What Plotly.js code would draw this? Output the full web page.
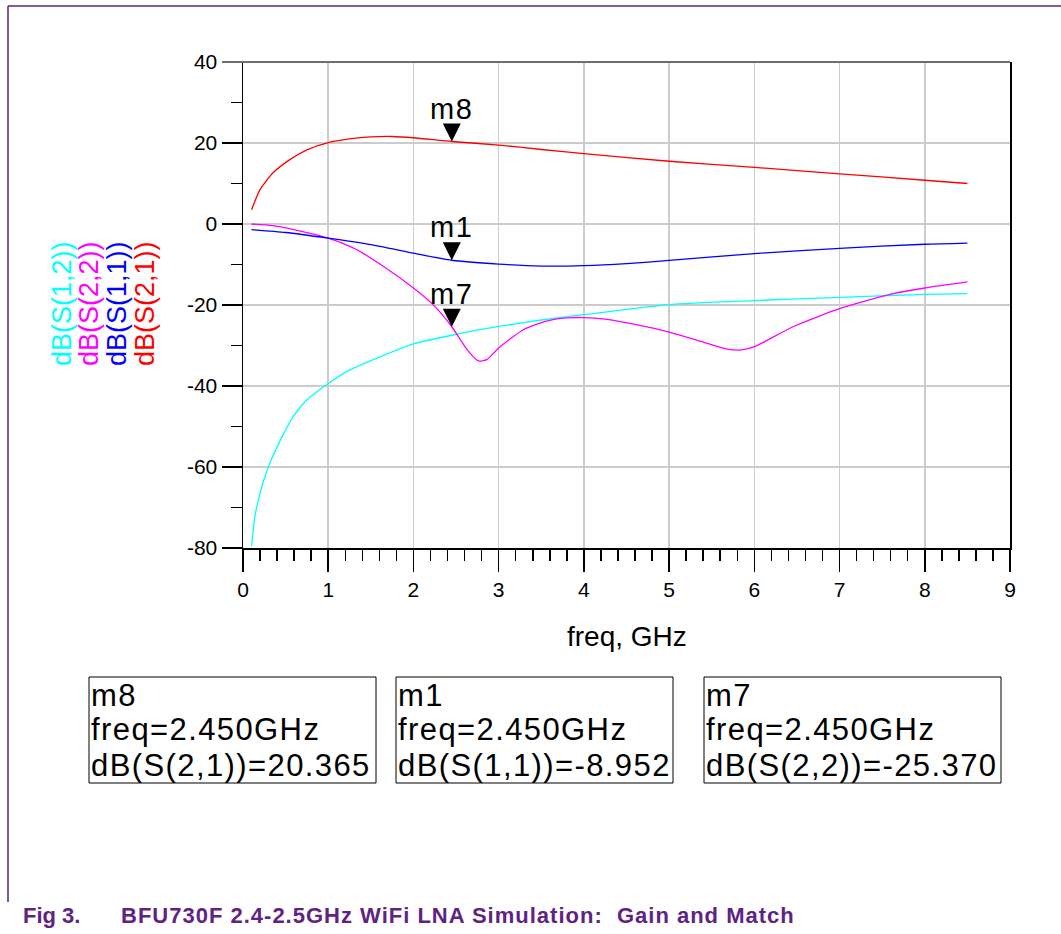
<!DOCTYPE html>
<html>
<head>
<meta charset="utf-8">
<script src="https://cdn.plot.ly/plotly-3.0.1.min.js"></script>
<style>
html,body{margin:0;padding:0;background:#ffffff;}
#chart{width:1061px;height:934px;}
</style>
</head>
<body>
<div id="chart"></div>
<script>
// ---------- data ----------
const s21Freq = [0.1, 0.2, 0.35, 0.55, 0.75, 1.0, 1.25, 1.5, 1.75, 2.0, 2.45, 3.0, 3.5, 4.0, 5.0, 6.0, 7.0, 8.0, 8.5];
const s21dB   = [3.5, 8.5, 12.6, 15.9, 18.3, 20.1, 21.0, 21.5, 21.6, 21.3, 20.365, 19.5, 18.4, 17.4, 15.5, 14.0, 12.4, 10.8, 10.0];

const s11Freq = [0.1, 0.5, 1.0, 1.5, 2.0, 2.45, 3.0, 3.5, 4.0, 4.5, 5.0, 6.0, 7.0, 8.0, 8.5];
const s11dB   = [-1.4, -2.1, -3.5, -5.1, -7.2, -8.952, -9.9, -10.4, -10.3, -9.8, -9.0, -7.3, -6.0, -5.0, -4.7];

const s22Freq = [0.1, 0.35, 0.75, 1.0, 1.33, 1.65, 2.0, 2.23, 2.45, 2.63, 2.76, 2.86, 3.0, 3.29, 3.56, 3.8, 4.0, 4.25, 4.6, 5.0, 5.36, 5.68, 5.85, 6.0, 6.46, 7.0, 7.63, 8.0, 8.5];
const s22dB   = [0, -0.4, -2.1, -3.5, -6.3, -10.5, -15.8, -19.9, -25.37, -31.0, -33.8, -33.5, -30.6, -26.1, -24.0, -23.2, -23.1, -23.5, -24.8, -26.7, -28.9, -30.9, -31.1, -30.3, -25.3, -20.9, -17.2, -15.8, -14.3];

const s12Freq = [0.1, 0.14, 0.2, 0.3, 0.44, 0.59, 0.75, 0.96, 1.22, 1.53, 2.0, 2.51, 3.0, 3.5, 4.0, 5.0, 6.0, 7.0, 8.0, 8.5];
const s12dB   = [-79.6, -72.2, -66.4, -59.8, -53.3, -47.5, -43.4, -40.0, -36.4, -33.5, -29.6, -27.2, -25.3, -23.7, -22.4, -19.9, -18.9, -18.1, -17.4, -17.2];

const seriesNames  = ['dB(S(1,2))', 'dB(S(2,2))', 'dB(S(1,1))', 'dB(S(2,1))'];
const seriesColors = ['#00ffff', '#ff00ff', '#0000ff', '#ff0000'];

const markerNames  = ['m8', 'm1', 'm7'];
const markerSeries = ['dB(S(2,1))', 'dB(S(1,1))', 'dB(S(2,2))'];
const markerFreq   = [2.45, 2.45, 2.45];
const markerValues = [20.365, -8.952, -25.370];
const markerFreqText  = ['2.450GHz', '2.450GHz', '2.450GHz'];
const markerValueText = ['20.365', '-8.952', '-25.370'];

const xTickVals = [0, 1, 2, 3, 4, 5, 6, 7, 8, 9];
const yTickVals = [-80, -60, -40, -20, 0, 20, 40];

const xTitle = 'freq, GHz';
const figNumber = 'Fig 3.';
const figCaption = 'BFU730F 2.4-2.5GHz WiFi LNA Simulation:&nbsp; Gain and Match';

// ---------- layout geometry ----------
const W = 1061, H = 934;
const L = 243, R = 1010, T = 62, B = 548;
const px2x = p => (p - L) / (R - L);
const py2y = p => (B - p) / (B - T);
const FONT = 'Liberation Sans, Arial, sans-serif';
const PURPLE = '#5e2383';

const seriesData = {
  'dB(S(1,2))': [s12Freq, s12dB],
  'dB(S(2,2))': [s22Freq, s22dB],
  'dB(S(1,1))': [s11Freq, s11dB],
  'dB(S(2,1))': [s21Freq, s21dB]
};

const traces = seriesNames.map((name, i) => ({
  type: 'scatter', mode: 'lines', name: name,
  x: seriesData[name][0], y: seriesData[name][1],
  line: {color: seriesColors[i], width: 1.3, shape: 'spline', smoothing: 0.6},
  hoverinfo: 'x+y+name'
}));

const annotations = [];
const shapes = [];

// y axis stacked coloured titles
const yTitleX = [62, 89, 117, 145];
seriesNames.forEach((name, i) => {
  annotations.push({
    xref: 'paper', yref: 'paper', x: px2x(yTitleX[i]), y: py2y(304),
    xanchor: 'center', yanchor: 'middle', textangle: -90, showarrow: false,
    text: name, font: {family: FONT, size: 27, color: seriesColors[i]}
  });
});

// x axis title
annotations.push({
  xref: 'paper', yref: 'paper', x: px2x(627), y: py2y(636),
  xanchor: 'center', yanchor: 'middle', showarrow: false,
  text: xTitle, font: {family: FONT, size: 28, color: '#000'}
});

// markers on the curves
markerNames.forEach((m, i) => {
  annotations.push({
    xref: 'x', yref: 'y', x: markerFreq[i], y: markerValues[i],
    text: '<span style="letter-spacing:1.5px">' + m + '</span>',
    font: {family: FONT, size: 29, color: '#000'},
    showarrow: true, ax: 0, ay: -33, arrowhead: 2, arrowsize: 3.6, arrowwidth: 1,
    arrowcolor: '#000', standoff: 0, startstandoff: 0
  });
});

// marker readout boxes
const boxLeft  = [89, 396, 704];
const boxRight = [376, 673, 1001];
const boxTop = 677, boxBottom = 783;
const lineCenters = [695, 729, 765];
markerNames.forEach((m, i) => {
  shapes.push({
    type: 'rect', xref: 'paper', yref: 'paper',
    x0: px2x(boxLeft[i]), x1: px2x(boxRight[i]), y0: py2y(boxBottom), y1: py2y(boxTop),
    line: {color: '#000', width: 1}, fillcolor: 'rgba(0,0,0,0)'
  });
  const lines = [m, 'freq=' + markerFreqText[i], markerSeries[i] + '=' + markerValueText[i]];
  lines.forEach((t, k) => {
    annotations.push({
      xref: 'paper', yref: 'paper', x: px2x(boxLeft[i]), y: py2y(lineCenters[k]),
      xanchor: 'left', yanchor: 'middle', showarrow: false,
      text: '<span style="letter-spacing:1.4px">' + t + '</span>',
      font: {family: FONT, size: 31, color: '#000'}
    });
  });
});

// caption
annotations.push({
  xref: 'paper', yref: 'paper', x: px2x(21), y: py2y(915),
  xanchor: 'left', yanchor: 'middle', showarrow: false,
  text: '<b>' + figNumber + '</b>',
  font: {family: FONT, size: 22, color: PURPLE}
});
annotations.push({
  xref: 'paper', yref: 'paper', x: px2x(119), y: py2y(915),
  xanchor: 'left', yanchor: 'middle', showarrow: false,
  text: '<b><span style="letter-spacing:1px">' + figCaption + '</span></b>',
  font: {family: FONT, size: 22, color: PURPLE}
});

// top border of the plot (grey) and page frame (purple)
shapes.push({type: 'line', xref: 'paper', yref: 'paper', x0: px2x(222), x1: 1, y0: 1, y1: 1,
             line: {color: '#6e6e6e', width: 2}});
shapes.push({type: 'line', xref: 'paper', yref: 'paper', x0: px2x(8), x1: px2x(1061), y0: py2y(6), y1: py2y(6),
             line: {color: PURPLE, width: 1.5}});
shapes.push({type: 'line', xref: 'paper', yref: 'paper', x0: px2x(8), x1: px2x(8), y0: py2y(6), y1: py2y(902),
             line: {color: PURPLE, width: 1.5}});

const layout = {
  width: W, height: H,
  margin: {l: L, r: W - R, t: T, b: H - B, pad: 0},
  paper_bgcolor: '#ffffff', plot_bgcolor: '#ffffff',
  showlegend: false,
  xaxis: {
    range: [0, 9], tickmode: 'array', tickvals: xTickVals, ticktext: xTickVals.map(String),
    ticks: 'outside', ticklen: 22, tickwidth: 1.5, tickcolor: '#000',
    showline: true, linecolor: '#000', linewidth: 1.5, mirror: false,
    showgrid: true, gridcolor: '#cccccc', gridwidth: 1.5, zeroline: false,
    tickfont: {family: FONT, size: 21, color: '#000'},
    minor: {dtick: 0.2, tick0: 0, ticks: 'outside', ticklen: 11, tickwidth: 1.5, tickcolor: '#000', showgrid: false},
    fixedrange: true
  },
  yaxis: {
    range: [-80, 40], tickmode: 'array', tickvals: yTickVals, ticktext: yTickVals.map(String),
    ticks: 'outside', ticklen: 20, tickwidth: 1.5, tickcolor: '#000',
    showline: true, linecolor: '#000', linewidth: 1.5, mirror: true,
    showgrid: true, gridcolor: '#cccccc', gridwidth: 1.5, zeroline: false,
    tickfont: {family: FONT, size: 21, color: '#000'},
    minor: {dtick: 10, tick0: 0, ticks: 'outside', ticklen: 11, tickwidth: 1.5, tickcolor: '#000', showgrid: false},
    fixedrange: true
  },
  annotations: annotations,
  shapes: shapes
};

Plotly.newPlot('chart', traces, layout, {displayModeBar: false, staticPlot: true});
</script>
</body>
</html>
